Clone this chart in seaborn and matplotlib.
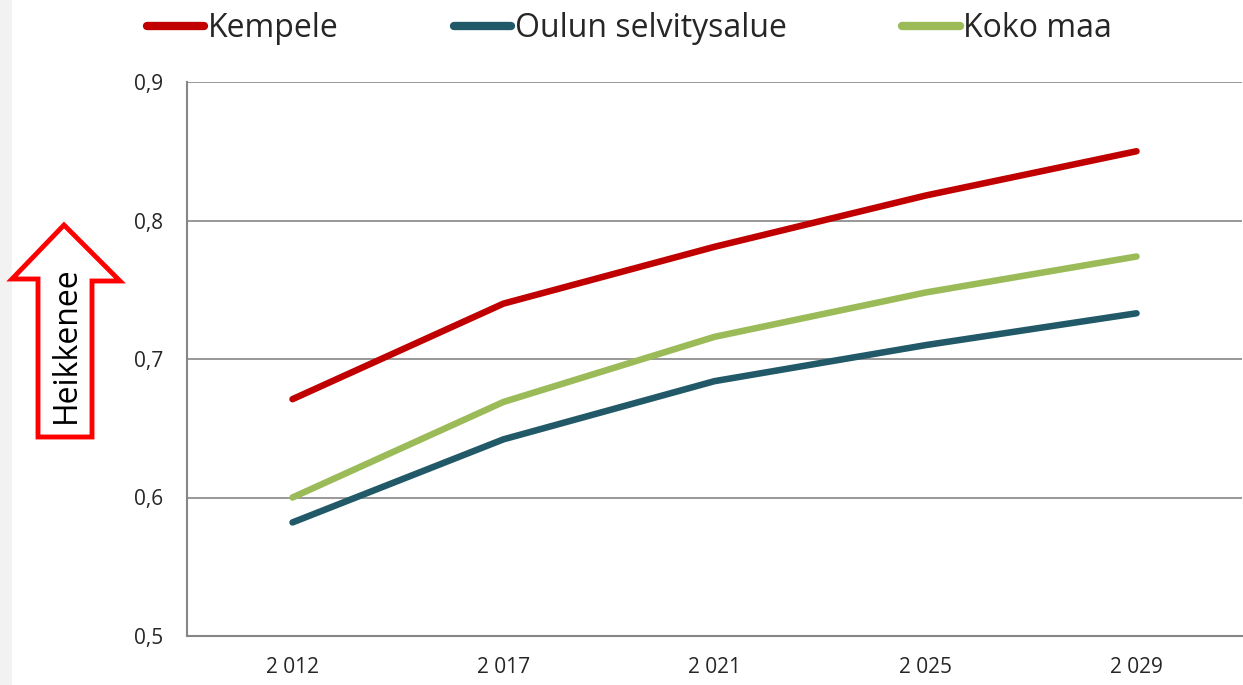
import pandas as pd
import matplotlib.pyplot as plt
import matplotlib.patches as mpatches
from matplotlib.ticker import FixedLocator, NullFormatter
import seaborn as sns

# Data
years = ["2 012", "2 017", "2 021", "2 025", "2 029"]
kempele = [0.671, 0.740, 0.781, 0.818, 0.850]
oulu = [0.582, 0.642, 0.684, 0.710, 0.733]
koko_maa = [0.600, 0.669, 0.716, 0.748, 0.774]
series_names = ["Kempele", "Oulun selvitysalue", "Koko maa"]
colors = ["#C00000", "#215968", "#9BBB59"]

rows = []
for name, vals in zip(series_names, [kempele, oulu, koko_maa]):
    for i, v in enumerate(vals):
        rows.append({"pos": i, "vuosi": years[i], "arvo": v, "sarja": name})
df = pd.DataFrame(rows)

sns.set_style("white")
plt.rcParams['font.family'] = ['Open Sans', 'DejaVu Sans']

fig = plt.figure(figsize=(12.43, 6.85), dpi=100)
# light gray strip on the left
fig.patches.append(mpatches.Rectangle((0, 0), 12 / 1243, 1, transform=fig.transFigure,
                                      facecolor="#F2F2F2", edgecolor="none", zorder=0))
ax = fig.add_axes([187 / 1243, 1 - 636 / 685, 1055 / 1243, 554 / 685])

sns.lineplot(data=df, x="pos", y="arvo", hue="sarja", palette=colors, ax=ax,
             linewidth=4.7, solid_capstyle="round", legend=False)

ax.set_xlim(-0.5, 4.5)
ax.set_ylim(0.5, 0.9)
ax.set_yticks([0.5, 0.6, 0.7, 0.8, 0.9])
ax.set_yticklabels(["0,5", "0,6", "0,7", "0,8", "0,9"])
ax.xaxis.set_major_locator(FixedLocator([-0.5, 0.5, 1.5, 2.5, 3.5, 4.5]))
ax.xaxis.set_major_formatter(NullFormatter())
ax.xaxis.set_minor_locator(FixedLocator(range(len(years))))
ax.set_xticklabels(years, minor=True)
ax.tick_params(axis="x", which="minor", length=0, pad=15, labelsize=15)
ax.tick_params(axis="x", which="major", length=7, width=1.2, color="#868686", direction="out")
ax.tick_params(axis="y", length=7, width=1.2, color="#868686", direction="out", labelsize=15, pad=10)
ax.grid(axis="y", color="#868686", linewidth=1.2)
ax.set_axisbelow(True)
for s in ["top", "right"]:
    ax.spines[s].set_visible(False)
for s in ["left", "bottom"]:
    ax.spines[s].set_color("#868686")
    ax.spines[s].set_linewidth(1.5)
ax.set_xlabel("")
ax.set_ylabel("")

# legend
handles = [plt.Line2D([], [], color=c, linewidth=6, solid_capstyle="round") for c in colors]
fig.legend(handles, series_names, loc="upper left", bbox_to_anchor=(118 / 1243, 1.024),
           ncol=3, frameon=False, fontsize=23, handlelength=1.8, handletextpad=0.12,
           columnspacing=3.6)

# arrow with "Heikkenee"
arrow_px = [(64, 225), (120, 281), (92, 281), (92, 437), (38, 437), (38, 279), (12, 279)]
arrow_pts = [(x / 1243, 1 - y / 685) for x, y in arrow_px]
fig.patches.append(mpatches.Polygon(arrow_pts, closed=True, transform=fig.transFigure,
                                    facecolor="white", edgecolor="#FF0000", linewidth=3.5))
fig.text(66 / 1243, 1 - 345 / 685, "Heikkenee", rotation=90, ha="center", va="center",
         fontsize=23, color="black")

plt.savefig("out.png", dpi=100)
